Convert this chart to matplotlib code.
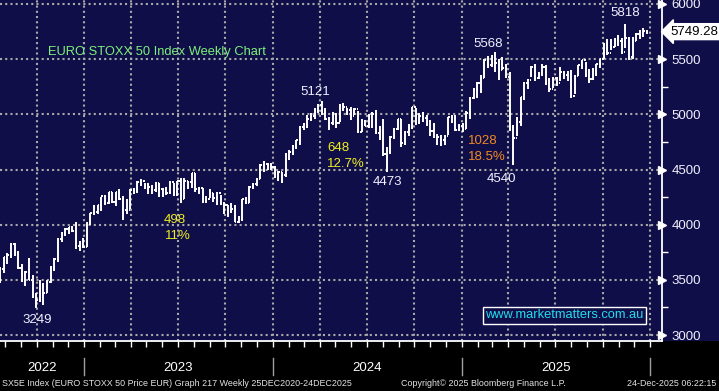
import numpy as np
import pandas as pd
import matplotlib
matplotlib.use("Agg")
import matplotlib.pyplot as plt
import matplotlib.dates as mdates
from matplotlib.patches import Rectangle

plt.rcParams['font.family'] = ['Liberation Sans', 'DejaVu Sans']

# weekly bars, SX5E, from week ending 22 Jul 2022
start_date = "2022-07-22"
highs = [3620, 3710, 3740, 3830, 3835, 3760, 3640, 3580, 3700, 3540, 3380, 3500, 3470, 3500, 3630, 3700,
         3880, 3930, 3970, 3980, 3990, 4020, 3850, 3880,
         4020, 4110, 4180, 4180, 4250, 4270, 4300, 4300, 4300, 4320, 4260, 4230, 4320, 4330, 4400, 4410,
         4380, 4380, 4360, 4390, 4380, 4330, 4340, 4400, 4380, 4400, 4420, 4420, 4400, 4470, 4471, 4340,
         4330, 4260, 4320, 4290, 4300, 4270, 4210, 4180, 4200, 4180, 4080, 4230, 4250, 4350, 4380, 4420,
         4550, 4580, 4560, 4560,
         4530, 4490, 4480, 4650, 4680, 4720, 4770, 4890, 4920, 4990, 5010, 5060, 5090, 5121, 5060, 4980,
         5020, 5010, 5090, 5100, 5060, 5070, 5060, 5030, 4960, 4950, 5000, 5020, 5040, 4890, 4960, 4700,
         4800, 4880, 4960, 4960, 4850, 4910, 5070, 5060, 5010, 5020, 4990, 4950, 4920, 4820, 4810, 4810,
         4980, 4990, 4990, 4910,
         4920, 5030, 5160, 5240, 5290, 5360, 5500, 5530, 5540, 5568, 5500, 5520, 5460, 5380, 4900, 4980,
         5160, 5290, 5320, 5440, 5460, 5380, 5460, 5450, 5330, 5340, 5340, 5430, 5390, 5390, 5400, 5360,
         5450, 5490, 5470, 5410, 5420, 5460, 5500, 5650, 5680, 5680, 5690, 5720, 5690, 5818, 5700, 5700,
         5740, 5760, 5780, 5760]
lows = [3470, 3560, 3640, 3700, 3720, 3600, 3480, 3440, 3500, 3340, 3249, 3300, 3270, 3380, 3470, 3580,
        3660, 3840, 3900, 3920, 3930, 3780, 3760, 3790,
        3800, 4000, 4090, 4100, 4120, 4180, 4190, 4200, 4170, 4220, 4040, 4100, 4140, 4280, 4290, 4350,
        4320, 4280, 4280, 4300, 4250, 4250, 4270, 4280, 4260, 4260, 4200, 4230, 4320, 4330, 4300, 4280,
        4200, 4200, 4240, 4210, 4180, 4180, 4100, 4070, 4110, 4020, 4014, 4030, 4190, 4200, 4320, 4350,
        4410, 4480, 4500, 4500,
        4420, 4400, 4380, 4430, 4590, 4630, 4690, 4720, 4860, 4880, 4940, 4960, 5010, 4990, 4950, 4860,
        4900, 4880, 4930, 5030, 4990, 4950, 4990, 4830, 4840, 4890, 4880, 4880, 4820, 4770, 4620, 4473,
        4640, 4780, 4860, 4700, 4720, 4800, 4870, 4900, 4910, 4930, 4890, 4800, 4790, 4720, 4710, 4720,
        4810, 4920, 4850, 4850,
        4840, 4870, 4960, 5140, 5150, 5190, 5330, 5420, 5430, 5380, 5310, 5400, 5330, 4850, 4540, 4800,
        4890, 5130, 5230, 5340, 5300, 5320, 5350, 5270, 5200, 5240, 5260, 5300, 5320, 5300, 5150, 5180,
        5350, 5410, 5340, 5280, 5310, 5350, 5420, 5500, 5540, 5580, 5610, 5620, 5550, 5600, 5490, 5500,
        5660, 5680, 5700, 5730]
closes = [3596, 3708, 3725, 3827, 3730, 3603, 3545, 3570, 3500, 3348, 3318, 3376, 3381, 3477, 3613, 3688,
          3868, 3924, 3962, 3977, 3942, 3804, 3815, 3794,
          4017, 4105, 4119, 4178, 4258, 4199, 4294, 4204, 4294, 4229, 4131, 4130, 4315, 4309, 4391, 4398,
          4359, 4340, 4318, 4374, 4322, 4324, 4290, 4390, 4271, 4399, 4233, 4400, 4390, 4466, 4320, 4330,
          4220, 4230, 4290, 4240, 4290, 4190, 4175, 4120, 4140, 4025, 4050, 4230, 4200, 4340, 4370, 4418,
          4545, 4550, 4540, 4522,
          4463, 4480, 4448, 4635, 4655, 4715, 4765, 4885, 4914, 4962, 4987, 5031, 5083, 5014, 4955, 4918,
          5006, 4921, 5085, 5064, 5036, 4983, 5051, 4839, 4937, 4894, 4979, 5000, 4827, 4862, 4638, 4655,
          4797, 4871, 4958, 4738, 4842, 4872, 5067, 4925, 4988, 4970, 4943, 4847, 4794, 4795, 4770, 4804,
          4977, 4967, 4860, 4898,
          4871, 5008, 5148, 5220, 5286, 5325, 5492, 5451, 5463, 5468, 5404, 5424, 5339, 4879, 4787, 4935,
          5154, 5286, 5310, 5427, 5326, 5367, 5426, 5290, 5234, 5325, 5287, 5383, 5359, 5353, 5168, 5347,
          5449, 5488, 5352, 5318, 5390, 5458, 5500, 5640, 5560, 5607, 5674, 5662, 5567, 5693, 5515, 5668,
          5725, 5720, 5751, 5749.28]
first_open = 3477

y_ticks = [3000, 3500, 4000, 4500, 5000, 5500, 6000]
years = [2022, 2023, 2024, 2025]

# labels on the chart: (text, x, y in axes fraction, colour, ha)
notes = [("5121", 0.476, 0.730, '#f0f0ff', 'center'),
         ("648", 0.494, 0.566, '#eeee22', 'left'),
         ("12.7%", 0.494, 0.519, '#eeee22', 'left'),
         ("498", 0.248, 0.355, '#eeee22', 'left'),
         ("11%", 0.249, 0.308, '#eeee22', 'left'),
         ("3249", 0.056, 0.062, '#f0f0ff', 'center'),
         ("4473", 0.585, 0.466, '#f0f0ff', 'center'),
         ("5568", 0.737, 0.871, '#f0f0ff', 'center'),
         ("1028", 0.707, 0.587, '#f08a24', 'left'),
         ("18.5%", 0.707, 0.540, '#f08a24', 'left'),
         ("4540", 0.757, 0.475, '#f0f0ff', 'center'),
         ("5818", 0.944, 0.962, '#f0f0ff', 'center')]

navy = '#100e48'
dates = pd.date_range(start_date, periods=len(closes), freq='W-FRI')
x = mdates.date2num(dates)
opens = [first_open] + closes[:-1]

fig = plt.figure(figsize=(7.19, 3.91), dpi=100, facecolor='black')
ax = fig.add_axes([0, 50/391, 662/719, 341/391])
fig.patches.append(Rectangle((0, 50/391), 1, 341/391, transform=fig.transFigure,
                             facecolor=navy, edgecolor='none', zorder=-1))
ax.set_facecolor(navy)

ax.vlines(x, lows, highs, color='white', lw=1.4, zorder=3)
ax.hlines(opens, x - 2.6, x, color='white', lw=1.4, zorder=3)
ax.hlines(closes, x, x + 2.6, color='white', lw=1.4, zorder=3)

ax.set_xlim(mdates.date2num(pd.Timestamp('2022-07-21 18:00')), mdates.date2num(pd.Timestamp('2026-01-24')))
ax.set_ylim(2946, 6036)

# grid
for v in y_ticks:
    ax.axhline(v, color='#a8a8a8', lw=1.5, ls=(0, (1, 1.5)), zorder=1)
for q in pd.date_range('2022-10-01', '2026-01-01', freq='QS'):
    ax.axvline(mdates.date2num(q), color='#a8a8a8', lw=1.5, ls=(0, (1, 1.5)), zorder=1)

# spines
for s in ['top', 'left']:
    ax.spines[s].set_visible(False)
ax.spines['right'].set_color('white')
ax.spines['bottom'].set_color('white')
ax.spines['right'].set_linewidth(1.3)
ax.spines['bottom'].set_linewidth(1.3)

# right axis
ax.yaxis.tick_right()
ax.set_yticks(y_ticks)
ax.set_yticks([3250, 3750, 4250, 4750, 5250, 5750], minor=True)
ax.tick_params(axis='y', which='major', length=0, pad=7, labelsize=9.5, labelcolor='#f0f0ff')
ax.tick_params(axis='y', which='minor', length=4, width=1, color='white', direction='out')
ax.plot([1.0] * len(y_ticks), y_ticks, marker='>', ms=6, color='white', ls='none',
        transform=ax.get_yaxis_transform(), clip_on=False, zorder=5)

# bottom axis, monthly ticks
ax.xaxis.set_major_locator(mdates.MonthLocator())
ax.tick_params(axis='x', which='major', length=4, width=1, color='white', direction='out', labelbottom=False)

for yr in years:
    b = mdates.date2num(pd.Timestamp(f'{yr + 1}-01-01'))
    ax.plot([b, b], [-0.05, -0.10], color='#a0a0a0', lw=1, transform=ax.get_xaxis_transform(), clip_on=False)
    left = max(mdates.date2num(pd.Timestamp(f'{yr}-01-01')), ax.get_xlim()[0])
    ax.text((left + b) / 2, -0.078, str(yr), color='white', fontsize=9.5, ha='center', va='center',
            transform=ax.get_xaxis_transform())

# texts
ax.text(0.0725, 0.8475, "EURO STOXX 50 Index Weekly Chart", color='#7cf07c', fontsize=9.3,
        ha='left', va='center', transform=ax.transAxes, zorder=6)
for t, tx, ty, c, ha in notes:
    ax.text(tx, ty, t, color=c, fontsize=9.5, ha=ha, va='center', transform=ax.transAxes, zorder=6)

ax.text(1.012, closes[-1], f"{closes[-1]:.2f}", color='black', fontsize=9.5, ha='left', va='center',
        transform=ax.get_yaxis_transform(), zorder=6,
        bbox=dict(boxstyle='larrow,pad=0.15', facecolor='white', edgecolor='white'))

ax.text(0.853, 0.076, "www.marketmatters.com.au", color='#22ddee', fontsize=9.3, ha='center', va='center',
        transform=ax.transAxes, zorder=6,
        bbox=dict(boxstyle='square,pad=0.2', facecolor=navy, edgecolor='white', lw=1))

fig.text(0.003, 0.02, "SX5E Index (EURO STOXX 50 Price EUR) Graph 217 Weekly 25DEC2020-24DEC2025",
         color='#e4e4e4', fontsize=6.4, ha='left', va='center')
fig.text(401/719, 0.02, "Copyright\u00a9 2025 Bloomberg Finance L.P.", color='#e4e4e4', fontsize=6.4,
         ha='left', va='center')
fig.text(0.997, 0.02, "24-Dec-2025 06:22:15", color='#e4e4e4', fontsize=6.4, ha='right', va='center')

fig.savefig('out.png', dpi=100, facecolor='black')
